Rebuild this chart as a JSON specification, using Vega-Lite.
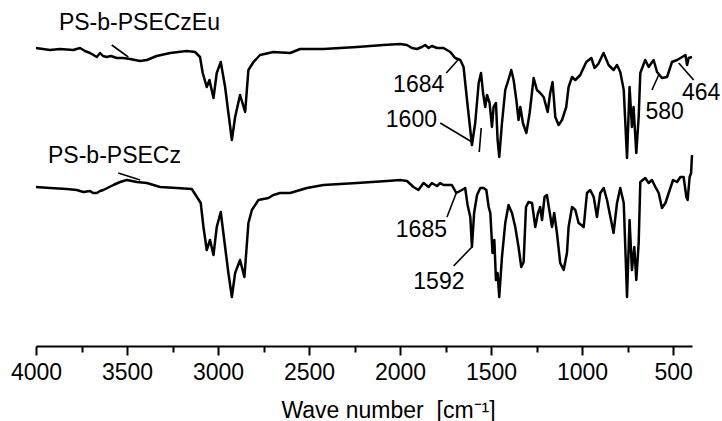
{
  "$schema": "https://vega.github.io/schema/vega-lite/v6.json",
  "width": 656,
  "height": 346,
  "padding": {"left": 36, "top": 0, "right": 30, "bottom": 75},
  "autosize": {"type": "none"},
  "config": {"view": {"stroke": null}, "font": "Liberation Sans"},
  "datasets": {
    "spectra": [
      {"series":"PS-b-PSECzEu","wn":4000,"t":298},{"series":"PS-b-PSECzEu","wn":3923,"t":296},{"series":"PS-b-PSECzEu","wn":3868,"t":297},{"series":"PS-b-PSECzEu","wn":3795,"t":296},{"series":"PS-b-PSECzEu","wn":3758,"t":298},{"series":"PS-b-PSECzEu","wn":3731,"t":295},{"series":"PS-b-PSECzEu","wn":3703,"t":293},{"series":"PS-b-PSECzEu","wn":3666,"t":289},{"series":"PS-b-PSECzEu","wn":3648,"t":293},{"series":"PS-b-PSECzEu","wn":3632,"t":290},{"series":"PS-b-PSECzEu","wn":3611,"t":289},{"series":"PS-b-PSECzEu","wn":3588,"t":290},{"series":"PS-b-PSECzEu","wn":3556,"t":288},{"series":"PS-b-PSECzEu","wn":3522,"t":288},{"series":"PS-b-PSECzEu","wn":3483,"t":287},{"series":"PS-b-PSECzEu","wn":3428,"t":285},{"series":"PS-b-PSECzEu","wn":3391,"t":286},{"series":"PS-b-PSECzEu","wn":3337,"t":290},{"series":"PS-b-PSECzEu","wn":3263,"t":293},{"series":"PS-b-PSECzEu","wn":3172,"t":295},{"series":"PS-b-PSECzEu","wn":3126,"t":294},{"series":"PS-b-PSECzEu","wn":3099,"t":289},{"series":"PS-b-PSECzEu","wn":3084,"t":273},{"series":"PS-b-PSECzEu","wn":3062,"t":259},{"series":"PS-b-PSECzEu","wn":3047,"t":266},{"series":"PS-b-PSECzEu","wn":3025,"t":248},{"series":"PS-b-PSECzEu","wn":3007,"t":273},{"series":"PS-b-PSECzEu","wn":2985,"t":284},{"series":"PS-b-PSECzEu","wn":2961,"t":259},{"series":"PS-b-PSECzEu","wn":2943,"t":233},{"series":"PS-b-PSECzEu","wn":2924,"t":206},{"series":"PS-b-PSECzEu","wn":2906,"t":229},{"series":"PS-b-PSECzEu","wn":2879,"t":251},{"series":"PS-b-PSECzEu","wn":2851,"t":234},{"series":"PS-b-PSECzEu","wn":2833,"t":276},{"series":"PS-b-PSECzEu","wn":2805,"t":284},{"series":"PS-b-PSECzEu","wn":2769,"t":291},{"series":"PS-b-PSECzEu","wn":2696,"t":294},{"series":"PS-b-PSECzEu","wn":2604,"t":293},{"series":"PS-b-PSECzEu","wn":2549,"t":297},{"series":"PS-b-PSECzEu","wn":2421,"t":297},{"series":"PS-b-PSECzEu","wn":2237,"t":299},{"series":"PS-b-PSECzEu","wn":2091,"t":301},{"series":"PS-b-PSECzEu","wn":2000,"t":302},{"series":"PS-b-PSECzEu","wn":1962,"t":301},{"series":"PS-b-PSECzEu","wn":1935,"t":298},{"series":"PS-b-PSECzEu","wn":1907,"t":297},{"series":"PS-b-PSECzEu","wn":1880,"t":299},{"series":"PS-b-PSECzEu","wn":1862,"t":301},{"series":"PS-b-PSECzEu","wn":1843,"t":298},{"series":"PS-b-PSECzEu","wn":1825,"t":300},{"series":"PS-b-PSECzEu","wn":1797,"t":298},{"series":"PS-b-PSECzEu","wn":1761,"t":298},{"series":"PS-b-PSECzEu","wn":1724,"t":294},{"series":"PS-b-PSECzEu","wn":1697,"t":288},{"series":"PS-b-PSECzEu","wn":1669,"t":286},{"series":"PS-b-PSECzEu","wn":1651,"t":279},{"series":"PS-b-PSECzEu","wn":1632,"t":246},{"series":"PS-b-PSECzEu","wn":1605,"t":201},{"series":"PS-b-PSECzEu","wn":1587,"t":223},{"series":"PS-b-PSECzEu","wn":1568,"t":263},{"series":"PS-b-PSECzEu","wn":1555,"t":273},{"series":"PS-b-PSECzEu","wn":1544,"t":253},{"series":"PS-b-PSECzEu","wn":1532,"t":239},{"series":"PS-b-PSECzEu","wn":1522,"t":251},{"series":"PS-b-PSECzEu","wn":1508,"t":243},{"series":"PS-b-PSECzEu","wn":1495,"t":219},{"series":"PS-b-PSECzEu","wn":1486,"t":239},{"series":"PS-b-PSECzEu","wn":1473,"t":243},{"series":"PS-b-PSECzEu","wn":1464,"t":206},{"series":"PS-b-PSECzEu","wn":1455,"t":189},{"series":"PS-b-PSECzEu","wn":1440,"t":223},{"series":"PS-b-PSECzEu","wn":1422,"t":256},{"series":"PS-b-PSECzEu","wn":1400,"t":269},{"series":"PS-b-PSECzEu","wn":1389,"t":276},{"series":"PS-b-PSECzEu","wn":1376,"t":266},{"series":"PS-b-PSECzEu","wn":1361,"t":246},{"series":"PS-b-PSECzEu","wn":1349,"t":226},{"series":"PS-b-PSECzEu","wn":1339,"t":239},{"series":"PS-b-PSECzEu","wn":1325,"t":223},{"series":"PS-b-PSECzEu","wn":1306,"t":213},{"series":"PS-b-PSECzEu","wn":1288,"t":233},{"series":"PS-b-PSECzEu","wn":1266,"t":268},{"series":"PS-b-PSECzEu","wn":1248,"t":256},{"series":"PS-b-PSECzEu","wn":1230,"t":253},{"series":"PS-b-PSECzEu","wn":1211,"t":249},{"series":"PS-b-PSECzEu","wn":1189,"t":234},{"series":"PS-b-PSECzEu","wn":1175,"t":253},{"series":"PS-b-PSECzEu","wn":1162,"t":264},{"series":"PS-b-PSECzEu","wn":1147,"t":229},{"series":"PS-b-PSECzEu","wn":1129,"t":221},{"series":"PS-b-PSECzEu","wn":1110,"t":226},{"series":"PS-b-PSECzEu","wn":1087,"t":239},{"series":"PS-b-PSECzEu","wn":1074,"t":259},{"series":"PS-b-PSECzEu","wn":1055,"t":269},{"series":"PS-b-PSECzEu","wn":1037,"t":266},{"series":"PS-b-PSECzEu","wn":1010,"t":271},{"series":"PS-b-PSECzEu","wn":977,"t":284},{"series":"PS-b-PSECzEu","wn":949,"t":288},{"series":"PS-b-PSECzEu","wn":931,"t":278},{"series":"PS-b-PSECzEu","wn":911,"t":282},{"series":"PS-b-PSECzEu","wn":882,"t":293},{"series":"PS-b-PSECzEu","wn":854,"t":281},{"series":"PS-b-PSECzEu","wn":827,"t":276},{"series":"PS-b-PSECzEu","wn":808,"t":281},{"series":"PS-b-PSECzEu","wn":790,"t":274},{"series":"PS-b-PSECzEu","wn":771,"t":256},{"series":"PS-b-PSECzEu","wn":753,"t":188},{"series":"PS-b-PSECzEu","wn":739,"t":259},{"series":"PS-b-PSECzEu","wn":726,"t":219},{"series":"PS-b-PSECzEu","wn":717,"t":239},{"series":"PS-b-PSECzEu","wn":702,"t":193},{"series":"PS-b-PSECzEu","wn":689,"t":229},{"series":"PS-b-PSECzEu","wn":680,"t":273},{"series":"PS-b-PSECzEu","wn":653,"t":286},{"series":"PS-b-PSECzEu","wn":634,"t":279},{"series":"PS-b-PSECzEu","wn":607,"t":286},{"series":"PS-b-PSECzEu","wn":588,"t":274},{"series":"PS-b-PSECzEu","wn":561,"t":268},{"series":"PS-b-PSECzEu","wn":533,"t":269},{"series":"PS-b-PSECzEu","wn":506,"t":284},{"series":"PS-b-PSECzEu","wn":478,"t":286},{"series":"PS-b-PSECzEu","wn":450,"t":289},{"series":"PS-b-PSECzEu","wn":432,"t":291},{"series":"PS-b-PSECzEu","wn":423,"t":281},{"series":"PS-b-PSECzEu","wn":414,"t":288},{"series":"PS-b-PSECzEu","wn":396,"t":289},
      {"series":"PS-b-PSECz","wn":4000,"t":159},{"series":"PS-b-PSECz","wn":3923,"t":158},{"series":"PS-b-PSECz","wn":3831,"t":157},{"series":"PS-b-PSECz","wn":3776,"t":156},{"series":"PS-b-PSECz","wn":3740,"t":154},{"series":"PS-b-PSECz","wn":3703,"t":155},{"series":"PS-b-PSECz","wn":3687,"t":153},{"series":"PS-b-PSECz","wn":3666,"t":153},{"series":"PS-b-PSECz","wn":3648,"t":155},{"series":"PS-b-PSECz","wn":3630,"t":156},{"series":"PS-b-PSECz","wn":3575,"t":161},{"series":"PS-b-PSECz","wn":3538,"t":164},{"series":"PS-b-PSECz","wn":3501,"t":166},{"series":"PS-b-PSECz","wn":3446,"t":164},{"series":"PS-b-PSECz","wn":3391,"t":163},{"series":"PS-b-PSECz","wn":3318,"t":159},{"series":"PS-b-PSECz","wn":3227,"t":158},{"series":"PS-b-PSECz","wn":3144,"t":157},{"series":"PS-b-PSECz","wn":3095,"t":143},{"series":"PS-b-PSECz","wn":3080,"t":119},{"series":"PS-b-PSECz","wn":3062,"t":96},{"series":"PS-b-PSECz","wn":3044,"t":106},{"series":"PS-b-PSECz","wn":3025,"t":91},{"series":"PS-b-PSECz","wn":3007,"t":119},{"series":"PS-b-PSECz","wn":2985,"t":134},{"series":"PS-b-PSECz","wn":2961,"t":99},{"series":"PS-b-PSECz","wn":2943,"t":73},{"series":"PS-b-PSECz","wn":2924,"t":49},{"series":"PS-b-PSECz","wn":2906,"t":73},{"series":"PS-b-PSECz","wn":2879,"t":86},{"series":"PS-b-PSECz","wn":2855,"t":69},{"series":"PS-b-PSECz","wn":2833,"t":123},{"series":"PS-b-PSECz","wn":2814,"t":136},{"series":"PS-b-PSECz","wn":2778,"t":146},{"series":"PS-b-PSECz","wn":2723,"t":148},{"series":"PS-b-PSECz","wn":2696,"t":151},{"series":"PS-b-PSECz","wn":2659,"t":153},{"series":"PS-b-PSECz","wn":2604,"t":153},{"series":"PS-b-PSECz","wn":2512,"t":158},{"series":"PS-b-PSECz","wn":2421,"t":161},{"series":"PS-b-PSECz","wn":2237,"t":163},{"series":"PS-b-PSECz","wn":2072,"t":165},{"series":"PS-b-PSECz","wn":2000,"t":166},{"series":"PS-b-PSECz","wn":1962,"t":165},{"series":"PS-b-PSECz","wn":1926,"t":159},{"series":"PS-b-PSECz","wn":1899,"t":156},{"series":"PS-b-PSECz","wn":1871,"t":163},{"series":"PS-b-PSECz","wn":1843,"t":159},{"series":"PS-b-PSECz","wn":1825,"t":163},{"series":"PS-b-PSECz","wn":1797,"t":160},{"series":"PS-b-PSECz","wn":1779,"t":163},{"series":"PS-b-PSECz","wn":1761,"t":161},{"series":"PS-b-PSECz","wn":1742,"t":161},{"series":"PS-b-PSECz","wn":1715,"t":161},{"series":"PS-b-PSECz","wn":1691,"t":153},{"series":"PS-b-PSECz","wn":1660,"t":156},{"series":"PS-b-PSECz","wn":1642,"t":158},{"series":"PS-b-PSECz","wn":1629,"t":141},{"series":"PS-b-PSECz","wn":1614,"t":129},{"series":"PS-b-PSECz","wn":1605,"t":99},{"series":"PS-b-PSECz","wn":1593,"t":133},{"series":"PS-b-PSECz","wn":1577,"t":151},{"series":"PS-b-PSECz","wn":1559,"t":158},{"series":"PS-b-PSECz","wn":1541,"t":158},{"series":"PS-b-PSECz","wn":1526,"t":156},{"series":"PS-b-PSECz","wn":1513,"t":139},{"series":"PS-b-PSECz","wn":1504,"t":133},{"series":"PS-b-PSECz","wn":1492,"t":93},{"series":"PS-b-PSECz","wn":1482,"t":106},{"series":"PS-b-PSECz","wn":1473,"t":66},{"series":"PS-b-PSECz","wn":1464,"t":73},{"series":"PS-b-PSECz","wn":1455,"t":49},{"series":"PS-b-PSECz","wn":1440,"t":89},{"series":"PS-b-PSECz","wn":1422,"t":123},{"series":"PS-b-PSECz","wn":1404,"t":141},{"series":"PS-b-PSECz","wn":1385,"t":133},{"series":"PS-b-PSECz","wn":1367,"t":119},{"series":"PS-b-PSECz","wn":1349,"t":99},{"series":"PS-b-PSECz","wn":1334,"t":79},{"series":"PS-b-PSECz","wn":1321,"t":84},{"series":"PS-b-PSECz","wn":1308,"t":139},{"series":"PS-b-PSECz","wn":1294,"t":144},{"series":"PS-b-PSECz","wn":1275,"t":143},{"series":"PS-b-PSECz","wn":1257,"t":119},{"series":"PS-b-PSECz","wn":1242,"t":133},{"series":"PS-b-PSECz","wn":1230,"t":139},{"series":"PS-b-PSECz","wn":1220,"t":126},{"series":"PS-b-PSECz","wn":1206,"t":149},{"series":"PS-b-PSECz","wn":1193,"t":151},{"series":"PS-b-PSECz","wn":1180,"t":136},{"series":"PS-b-PSECz","wn":1165,"t":119},{"series":"PS-b-PSECz","wn":1153,"t":133},{"series":"PS-b-PSECz","wn":1138,"t":113},{"series":"PS-b-PSECz","wn":1120,"t":83},{"series":"PS-b-PSECz","wn":1101,"t":76},{"series":"PS-b-PSECz","wn":1083,"t":93},{"series":"PS-b-PSECz","wn":1074,"t":119},{"series":"PS-b-PSECz","wn":1055,"t":139},{"series":"PS-b-PSECz","wn":1037,"t":136},{"series":"PS-b-PSECz","wn":1019,"t":123},{"series":"PS-b-PSECz","wn":1004,"t":121},{"series":"PS-b-PSECz","wn":991,"t":119},{"series":"PS-b-PSECz","wn":973,"t":153},{"series":"PS-b-PSECz","wn":955,"t":156},{"series":"PS-b-PSECz","wn":936,"t":149},{"series":"PS-b-PSECz","wn":918,"t":129},{"series":"PS-b-PSECz","wn":900,"t":153},{"series":"PS-b-PSECz","wn":881,"t":158},{"series":"PS-b-PSECz","wn":863,"t":146},{"series":"PS-b-PSECz","wn":841,"t":126},{"series":"PS-b-PSECz","wn":827,"t":113},{"series":"PS-b-PSECz","wn":808,"t":143},{"series":"PS-b-PSECz","wn":790,"t":158},{"series":"PS-b-PSECz","wn":771,"t":143},{"series":"PS-b-PSECz","wn":753,"t":49},{"series":"PS-b-PSECz","wn":739,"t":126},{"series":"PS-b-PSECz","wn":726,"t":76},{"series":"PS-b-PSECz","wn":713,"t":99},{"series":"PS-b-PSECz","wn":702,"t":66},{"series":"PS-b-PSECz","wn":689,"t":103},{"series":"PS-b-PSECz","wn":680,"t":164},{"series":"PS-b-PSECz","wn":653,"t":168},{"series":"PS-b-PSECz","wn":634,"t":163},{"series":"PS-b-PSECz","wn":616,"t":166},{"series":"PS-b-PSECz","wn":597,"t":159},{"series":"PS-b-PSECz","wn":579,"t":153},{"series":"PS-b-PSECz","wn":561,"t":138},{"series":"PS-b-PSECz","wn":542,"t":143},{"series":"PS-b-PSECz","wn":524,"t":153},{"series":"PS-b-PSECz","wn":500,"t":166},{"series":"PS-b-PSECz","wn":478,"t":164},{"series":"PS-b-PSECz","wn":460,"t":169},{"series":"PS-b-PSECz","wn":442,"t":169},{"series":"PS-b-PSECz","wn":427,"t":149},{"series":"PS-b-PSECz","wn":420,"t":146},{"series":"PS-b-PSECz","wn":409,"t":169},{"series":"PS-b-PSECz","wn":401,"t":173},{"series":"PS-b-PSECz","wn":396,"t":191}
    ],
    "pointers": [
      {"wn":3584,"t":301,"wn2":3493,"t2":289},
      {"wn":3548,"t":173,"wn2":3428,"t2":166},
      {"wn":1746,"t":273,"wn2":1682,"t2":286},
      {"wn":1779,"t":223,"wn2":1605,"t2":204},
      {"wn":1565,"t":194,"wn2":1554,"t2":218},
      {"wn":1742,"t":129,"wn2":1691,"t2":153},
      {"wn":1706,"t":80,"wn2":1605,"t2":99},
      {"wn":616,"t":256,"wn2":579,"t2":271},
      {"wn":387,"t":266,"wn2":469,"t2":283}
    ],
    "labels": [
      {"text":"PS-b-PSECzEu","wn":3874,"t":316,"side":"left"},
      {"text":"PS-b-PSECz","wn":3934,"t":183,"side":"left"},
      {"text":"1684","wn":1757,"t":254,"side":"right"},
      {"text":"1600","wn":1797,"t":219,"side":"right"},
      {"text":"1685","wn":1742,"t":109,"side":"right"},
      {"text":"1592","wn":1646,"t":57,"side":"right"},
      {"text":"580","wn":652,"t":227,"side":"left"},
      {"text":"464","wn":451,"t":246,"side":"left"}
    ]
  },
  "encoding": {
    "x": {
      "field": "wn",
      "type": "quantitative",
      "scale": {"domain": [396, 4000], "reverse": true, "nice": false, "zero": false},
      "axis": {
        "values": [4000, 3750, 3500, 3250, 3000, 2750, 2500, 2250, 2000, 1750, 1500, 1250, 1000, 750, 500],
        "format": "d",
        "labelExpr": "datum.value % 500 === 0 ? datum.label : ''",
        "tickSize": {"condition": {"test": "datum.value % 500 === 0", "value": 9}, "value": 6},
        "tickWidth": 2,
        "tickColor": "black",
        "domainColor": "black",
        "domainWidth": 2,
        "grid": false,
        "labelFont": "Liberation Sans",
        "labelFontSize": 23,
        "labelColor": "black",
        "labelPadding": 6,
        "labelFlush": false,
        "labelOverlap": false,
        "title": "Wave number\u00a0 [cm⁻¹]",
        "titleFont": "Liberation Sans",
        "titleFontSize": 23,
        "titleFontWeight": "normal",
        "titleColor": "black",
        "titleX": 352,
        "titleY": 71,
        "titleAlign": "center",
        "titleBaseline": "alphabetic"
      }
    },
    "y": {
      "field": "t",
      "type": "quantitative",
      "scale": {"domain": [0, 346], "nice": false, "zero": false},
      "axis": null
    }
  },
  "layer": [
    {
      "data": {"name": "spectra"},
      "mark": {"type": "line", "color": "black", "strokeWidth": 2.5, "strokeJoin": "round"},
      "encoding": {"detail": {"field": "series"}}
    },
    {
      "data": {"name": "pointers"},
      "mark": {"type": "rule", "color": "black", "strokeWidth": 1.6},
      "encoding": {"x2": {"field": "wn2"}, "y2": {"field": "t2"}}
    },
    {
      "data": {"name": "labels"},
      "transform": [{"filter": "datum.side === 'left'"}],
      "mark": {"type": "text", "align": "left", "baseline": "alphabetic", "fontSize": 23, "font": "Liberation Sans", "color": "black"},
      "encoding": {"text": {"field": "text"}}
    },
    {
      "data": {"name": "labels"},
      "transform": [{"filter": "datum.side === 'right'"}],
      "mark": {"type": "text", "align": "right", "baseline": "alphabetic", "fontSize": 23, "font": "Liberation Sans", "color": "black"},
      "encoding": {"text": {"field": "text"}}
    }
  ]
}
